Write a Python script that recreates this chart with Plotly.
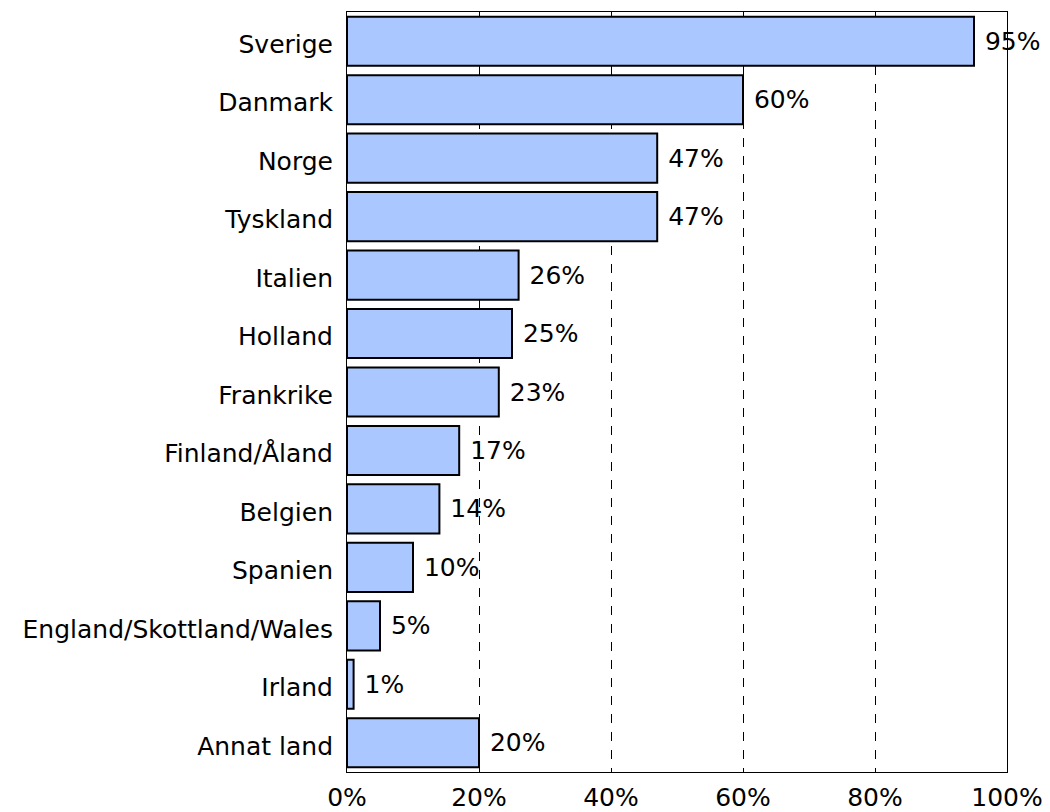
import plotly.graph_objects as go

# countries top -> bottom, share in percent
countries = ['Sverige', 'Danmark', 'Norge', 'Tyskland', 'Italien', 'Holland', 'Frankrike',
             'Finland/Åland', 'Belgien', 'Spanien', 'England/Skottland/Wales', 'Irland',
             'Annat land']
share = [95, 60, 47, 47, 26, 25, 23, 17, 14, 10, 5, 1, 20]
x_ticks = [0, 20, 40, 60, 80, 100]
x_tick_labels = ['0%', '20%', '40%', '60%', '80%', '100%']

FONT = 'DejaVu Sans, Verdana, sans-serif'

fig = go.Figure(go.Bar(
    y=countries, x=share, orientation='h',
    marker=dict(color='#aac8ff', line=dict(color='black', width=2)),
    text=[f' {v}%' for v in share], textposition='outside', cliponaxis=False,
    textfont=dict(size=25, color='black', family=FONT),
    hoverinfo='skip'))

fig.update_layout(
    width=1050, height=812, plot_bgcolor='white', paper_bgcolor='white',
    margin=dict(l=347, r=43, t=12, b=40), bargap=0.16, showlegend=False,
    font=dict(family=FONT, size=25, color='black'),
    uniformtext=dict(minsize=25, mode='show'),
    xaxis=dict(range=[0, 100], tickvals=x_ticks, ticktext=x_tick_labels,
               showgrid=True, gridcolor='black', griddash='dash', gridwidth=1,
               showline=True, linecolor='black', linewidth=1, mirror=True,
               zeroline=False, ticks='', ticklabelstandoff=3, automargin=False),
    yaxis=dict(autorange='reversed', showline=True, linecolor='black', linewidth=1,
               mirror=True, ticks='', ticklabelstandoff=8, ticklabelshift=-3,
               showgrid=False, automargin=False),
)

# drop the default 8px body margin so the figure sits at the page's top-left corner
fig.write_html('out.html', config={'displayModeBar': False},
               post_script="document.body.style.margin='0';")
